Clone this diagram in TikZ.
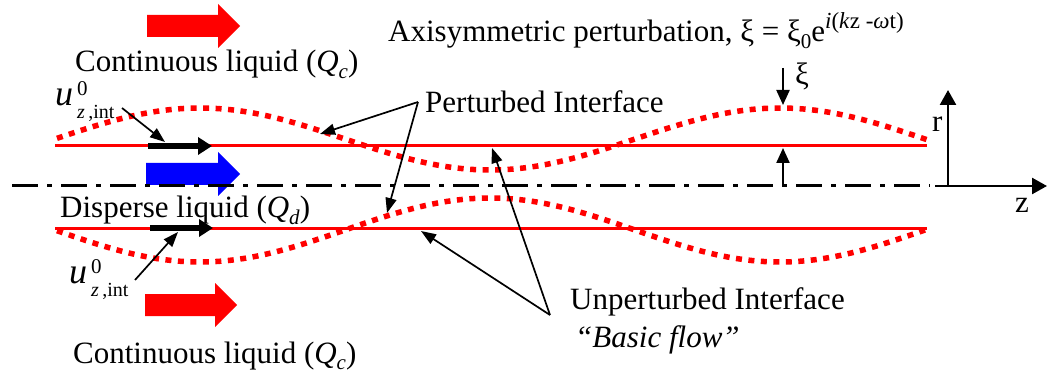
\documentclass[tikz,border=0pt]{standalone}
\usepackage{fontspec}
\setmainfont{Liberation Serif}
\usetikzlibrary{arrows.meta}
\newcommand\lowsub[1]{\raisebox{-0.22em}{\fontsize{21}{21}\selectfont #1}}
\newcommand\uint{{\fontsize{36}{36}\selectfont\itshape u}\kern4pt\rlap{\raisebox{10pt}{\fontsize{21}{21}\selectfont 0}}\raisebox{-13pt}{\fontsize{20}{20}\selectfont\textit{z}\,,int}}
\newcommand\flowarrow[4]{%
  \fill[#4] (#1,#3-11) -- (#2-22,#3-11) -- (#2-22,#3-22) -- (#2,#3) -- (#2-22,#3+22) -- (#2-22,#3+11) -- (#1,#3+11) -- cycle;}
\tikzset{
  lbl/.style={anchor=base west, inner sep=0pt, font=\fontsize{31}{36}\selectfont},
  iface/.style={red, line width=3pt},
  pert/.style={red, line width=5.5pt, dash pattern=on 6pt off 6.5pt},
  leader/.style={black, line width=1.7pt, -{Triangle[length=15pt,width=11pt]}},
  velo/.style={black, line width=5.5pt, -{Triangle[length=14pt,width=17pt]}},
  xiarrow/.style={black, line width=2.2pt, -{Triangle[length=15pt,width=13pt]}},
  axis/.style={black, line width=2.5pt, -{Triangle[length=15pt,width=16pt]}},
  centerline/.style={black, line width=3pt, dash pattern=on 26pt off 9pt on 5pt off 9pt},
}
\begin{document}
\begin{tikzpicture}[x=1pt,y=-1pt]
\useasboundingbox (0,0) rectangle (1057,374);

% flow arrows
\flowarrow{147}{240}{26}{red}
\flowarrow{146}{240}{174}{blue}
\flowarrow{145}{237}{305}{red}

% centre line
\coordinate (cl0) at (12,186);
\coordinate (cl1e) at (930,186);
\draw[centerline] (cl0) -- (cl1e);

% unperturbed interfaces
\coordinate (ua) at (55,146); \coordinate (ub) at (927,146);
\coordinate (la) at (55,228); \coordinate (lb) at (927,228);
\draw[iface] (ua) -- (ub);
\draw[iface] (la) -- (lb);

% perturbed interfaces
\draw[pert] plot[domain=57:927, samples=140, smooth] (\x, {139-31*cos(0.62069*(\x-200))});
\draw[pert] plot[domain=57:927, samples=140, smooth] (\x, {230+32*cos(0.62069*(\x-200))});

% interface velocity arrows
\coordinate (v1a) at (148,146); \coordinate (v1b) at (212,146);
\coordinate (v2a) at (150,228); \coordinate (v2b) at (213,228);
\draw[velo] (v1a) -- (v1b);
\draw[velo] (v2a) -- (v2b);

% axes
\coordinate (o) at (948,187);
\coordinate (rt) at (948,90);
\coordinate (zs) at (935,186);
\coordinate (zt) at (1047,186);
\draw[axis] (o) -- (rt);
\draw[axis] (zs) -- (zt);
\node[lbl] (r) at (932,132) {r};
\node[lbl] (z) at (1015,213) {z};

% xi arrows
\coordinate (x1a) at (783,68); \coordinate (x1b) at (783,105);
\coordinate (x2a) at (783,186); \coordinate (x2b) at (783,148);
\draw[xiarrow] (x1a) -- (x1b);
\draw[xiarrow] (x2a) -- (x2b);
\node[lbl] (xi) at (795,85) {ξ};

% texts
\node[lbl] (cont1) at (75,72) {Continuous liquid (\textit{Q}\lowsub{\textit{c}})};
\node[lbl] (title) at (388,42) {Axisymmetric perturbation, ξ = ξ\lowsub{0}e\raisebox{0.45em}{\fontsize{23}{23}\selectfont\textit{i}(\textit{k}z -\textit{ω}t)}};
\node[lbl] (pi) at (425,113) {Perturbed Interface};
\node[lbl] (disp) at (60,218) {Disperse liquid (\textit{Q}\lowsub{\textit{d}})};
\node[lbl] (cont2) at (73,363) {Continuous liquid (\textit{Q}\lowsub{\textit{c}})};
\node[lbl] (ui) at (570,309) {Unperturbed Interface};
\node[lbl] (bf) at (575,347) {\textit{``Basic flow''}};

% u labels
\node[lbl] (u1) at (55,106) {\uint};
\node[lbl] (u2) at (69,283) {\uint};

% leaders
\coordinate (l1s) at (122,108); \coordinate (l1t) at (165,142);
\coordinate (l2s) at (135,280); \coordinate (l2t) at (178,232);
\draw[leader] (l1s) -- (l1t);
\draw[leader] (l2s) -- (l2t);

\coordinate (pa) at (418,102);
\coordinate (pt1) at (320,134);
\coordinate (pt2) at (387,213);
\draw[leader] (pa) -- (pt1);
\draw[leader] (pa) -- (pt2);

\coordinate (ua2) at (550,315);
\coordinate (ut1) at (492,148);
\coordinate (ut2) at (421,231);
\draw[leader] (ua2) -- (ut1);
\draw[leader] (ua2) -- (ut2);
\end{tikzpicture}
\end{document}
